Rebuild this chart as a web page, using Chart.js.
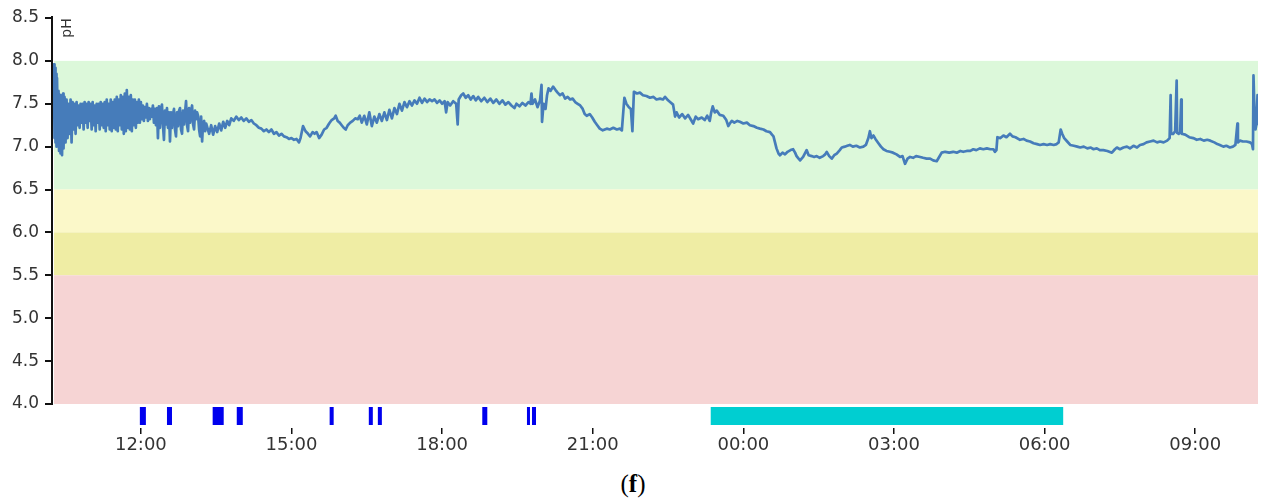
<!DOCTYPE html>
<html>
<head>
<meta charset="utf-8">
<script src="https://cdn.jsdelivr.net/npm/chart.js@4.4.1/dist/chart.umd.min.js"></script>
<style>
  body { margin: 0; background: #fff; }
  #wrap { position: relative; width: 1261px; height: 503px; }
  #caption {
    position: absolute; left: 0; top: 470px; width: 1266px;
    text-align: center; font-family: "Liberation Serif", serif; font-size: 25px; color: #000;
  }
</style>
</head>
<body>
<div id="wrap">
  <canvas id="phChart" width="1261" height="465"></canvas>
  <div id="caption">(<b>f</b>)</div>
</div>
<script>
// time in hours since midnight of day 1 (24+ = next day), pH
const phTime = [
  10.26, 10.27, 10.28, 10.29, 10.30, 10.31, 10.32, 10.33, 10.35, 10.36, 10.37, 10.39, 10.40, 10.42, 10.43, 10.45,
  10.46, 10.48, 10.50, 10.52, 10.54, 10.56, 10.58, 10.60, 10.62, 10.64, 10.66, 10.68, 10.70, 10.72, 10.74, 10.76,
  10.78, 10.80, 10.82, 10.84, 10.86, 10.88, 10.90, 10.92, 10.94, 10.96, 10.98, 11.00, 11.02, 11.04, 11.06, 11.08,
  11.10, 11.12, 11.14, 11.16, 11.18, 11.20, 11.22, 11.24, 11.26, 11.28, 11.30, 11.32, 11.34, 11.36, 11.38, 11.40,
  11.42, 11.44, 11.46, 11.48, 11.50, 11.52, 11.54, 11.56, 11.58, 11.60, 11.62, 11.64, 11.66, 11.68, 11.70, 11.72,
  11.74, 11.76, 11.78, 11.80, 11.82, 11.84, 11.86, 11.88, 11.90, 11.92, 11.94,
  11.96, 11.98, 12.00, 12.02, 12.04, 12.06, 12.08, 12.10, 12.12, 12.14, 12.16, 12.18, 12.20, 12.22, 12.24, 12.26,
  12.28, 12.30, 12.32, 12.34, 12.36, 12.38, 12.40, 12.42, 12.44, 12.46, 12.48, 12.50, 12.52, 12.54, 12.56, 12.58,
  12.60, 12.62, 12.64, 12.66, 12.68, 12.70, 12.72, 12.74, 12.76, 12.78, 12.80, 12.82, 12.84, 12.86, 12.88, 12.90,
  12.92, 12.94, 12.96, 12.98, 13.00, 13.02, 13.04, 13.06, 13.08, 13.10, 13.12, 13.14, 13.16, 13.18, 13.20, 13.22,
  13.24, 13.26, 13.28, 13.30, 13.36,
  13.40, 13.44, 13.48, 13.52, 13.56, 13.60, 13.64, 13.68, 13.72, 13.76, 13.80, 13.85, 13.90, 13.95, 14.00, 14.05,
  14.10, 14.15, 14.20, 14.25, 14.30, 14.35, 14.40, 14.45, 14.50, 14.55, 14.60, 14.65, 14.70, 14.75, 14.80, 14.85,
  14.90, 14.95, 15.00, 15.05, 15.10, 15.15, 15.18, 15.23, 15.28, 15.33, 15.37, 15.42, 15.46, 15.50, 15.55, 15.60,
  15.65, 15.70, 15.75, 15.80, 15.85, 15.88, 15.92, 15.96, 16.00, 16.04, 16.08, 16.12, 16.17, 16.22, 16.27, 16.32,
  16.36,
  16.40, 16.45, 16.50, 16.55, 16.60, 16.65, 16.70, 16.75, 16.80, 16.85, 16.90, 16.95, 17.00, 17.05, 17.10, 17.15,
  17.20, 17.25, 17.30, 17.35, 17.40, 17.45, 17.50, 17.55, 17.60, 17.65, 17.70, 17.75, 17.80, 17.85, 17.90, 17.95,
  18.00, 18.05, 18.08, 18.11, 18.16, 18.22, 18.28, 18.31, 18.33, 18.38, 18.42, 18.47, 18.52, 18.57, 18.62, 18.67,
  18.72, 18.78, 18.84, 18.90, 18.96, 19.02, 19.08, 19.14, 19.20, 19.26, 19.32, 19.38, 19.44, 19.48, 19.54, 19.60,
  19.66, 19.72, 19.76, 19.78, 19.80, 19.85, 19.90, 19.95, 19.98, 19.99, 20.02, 20.06, 20.09, 20.12, 20.16, 20.21,
  20.26, 20.30, 20.35, 20.40, 20.45, 20.50, 20.55, 20.60, 20.65, 20.70, 20.75, 20.80, 20.84, 20.88, 20.94, 20.99,
  21.04, 21.09, 21.14, 21.20, 21.28, 21.34, 21.41, 21.48, 21.54, 21.58, 21.63, 21.67, 21.72, 21.76, 21.79, 21.82,
  21.88, 21.94, 22.00, 22.07, 22.14, 22.21, 22.27, 22.34, 22.40, 22.44, 22.50, 22.54,
  22.60, 22.64, 22.67, 22.72, 22.78, 22.84, 22.90, 22.95, 23.00, 23.05, 23.10, 23.17, 23.23, 23.28, 23.33, 23.36,
  23.39, 23.43, 23.47, 23.53, 23.60, 23.66, 23.70, 23.73, 23.77, 23.82, 23.88, 23.93, 24.00, 24.07, 24.13, 24.20,
  24.27, 24.33, 24.40, 24.46, 24.53, 24.57, 24.60, 24.63, 24.66, 24.70, 24.73, 24.78, 24.83, 24.88, 24.94, 24.99,
  25.03, 25.06, 25.10, 25.13, 25.19, 25.26, 25.30, 25.36, 25.41, 25.46, 25.52, 25.59, 25.63, 25.66, 25.71, 25.76,
  25.81, 25.86, 25.92, 25.96, 26.02, 26.07, 26.12, 26.18, 26.25, 26.32, 26.39, 26.44, 26.49, 26.52, 26.55, 26.59,
  26.63, 26.69, 26.74, 26.79, 26.85, 26.92, 26.98, 27.05, 27.12, 27.17, 27.22, 27.27, 27.32, 27.38, 27.44, 27.52,
  27.58, 27.65, 27.72, 27.78, 27.85, 27.90, 27.95, 28.02, 28.10, 28.18, 28.25, 28.32, 28.38, 28.45,
  28.52, 28.58, 28.64, 28.71, 28.78, 28.85, 28.92, 28.98, 29.01, 29.04, 29.06, 29.12, 29.18, 29.24, 29.31, 29.36,
  29.42, 29.51, 29.58, 29.64, 29.71, 29.78, 29.85, 29.91, 29.98, 30.05, 30.11, 30.18, 30.24, 30.28, 30.32, 30.35,
  30.39, 30.45, 30.51, 30.58, 30.65, 30.71, 30.78, 30.85, 30.92, 30.97, 31.04, 31.10, 31.17, 31.25, 31.34, 31.40,
  31.44, 31.50, 31.57, 31.64, 31.70, 31.77, 31.84, 31.90, 31.97, 32.03, 32.10, 32.17, 32.24, 32.30, 32.37, 32.44,
  32.49, 32.51, 32.52, 32.56, 32.60, 32.63, 32.64, 32.67, 32.70, 32.72, 32.73, 32.80, 32.88, 32.96, 33.03, 33.10,
  33.17, 33.24, 33.30, 33.38, 33.44, 33.49, 33.56, 33.62, 33.69, 33.75, 33.80, 33.84, 33.85, 33.89, 33.95, 34.02,
  34.09, 34.13, 34.15, 34.16, 34.18, 34.20, 34.22, 34.24, 34.25
];
const phValue = [
  7.45, 7.96, 7.10, 7.92, 7.05, 7.85, 7.00, 7.80, 7.08, 7.65, 6.95, 7.60, 6.92, 7.55, 6.90, 7.62,
  6.98, 7.58, 7.05, 7.55, 7.10, 7.50, 7.15, 7.55, 7.05, 7.52, 7.20, 7.50, 7.15, 7.52, 7.25, 7.48,
  7.22, 7.50, 7.28, 7.50, 7.20, 7.52, 7.28, 7.50, 7.22, 7.52, 7.30, 7.50, 7.20, 7.52, 7.25, 7.48,
  7.18, 7.50, 7.28, 7.50, 7.20, 7.52, 7.25, 7.50, 7.22, 7.52, 7.18, 7.55, 7.25, 7.50, 7.20, 7.55,
  7.18, 7.52, 7.22, 7.55, 7.20, 7.58, 7.18, 7.55, 7.25, 7.60, 7.20, 7.58, 7.15, 7.62, 7.18, 7.66,
  7.22, 7.58, 7.20, 7.60, 7.18, 7.55, 7.25, 7.55, 7.22, 7.52, 7.28,
  7.55, 7.28, 7.52, 7.32, 7.48, 7.30, 7.46, 7.34, 7.50, 7.30, 7.45, 7.32, 7.44, 7.35, 7.48, 7.28,
  7.44, 7.25, 7.45, 7.10, 7.47, 7.22, 7.44, 7.49, 7.25, 7.08, 7.42, 7.26, 7.45, 7.22, 7.40, 7.06,
  7.40, 7.22, 7.38, 7.44, 7.20, 7.12, 7.40, 7.24, 7.42, 7.45, 7.20, 7.15, 7.42, 7.26, 7.40, 7.53,
  7.25, 7.18, 7.45, 7.28, 7.42, 7.48, 7.26, 7.20, 7.42, 7.32, 7.40, 7.36, 7.20, 7.12, 7.35, 7.06,
  7.28, 7.30, 7.18, 7.27, 7.15,
  7.25, 7.14, 7.24, 7.17, 7.27, 7.19, 7.29, 7.22, 7.30, 7.25, 7.33, 7.30, 7.35, 7.31, 7.34, 7.30,
  7.33, 7.29, 7.31, 7.27, 7.25, 7.22, 7.21, 7.18, 7.20, 7.17, 7.20, 7.15, 7.17, 7.13, 7.15, 7.12,
  7.11, 7.09, 7.10, 7.08, 7.09, 7.05, 7.10, 7.24, 7.18, 7.15, 7.12, 7.17, 7.15, 7.17, 7.10, 7.14,
  7.20, 7.22, 7.27, 7.31, 7.33, 7.36, 7.30, 7.28, 7.25, 7.22, 7.20, 7.25, 7.28, 7.30, 7.33, 7.32,
  7.36,
  7.28, 7.36, 7.26, 7.40, 7.24, 7.35, 7.28, 7.38, 7.30, 7.40, 7.31, 7.43, 7.33, 7.45, 7.38, 7.50,
  7.42, 7.52, 7.46, 7.53, 7.48, 7.54, 7.50, 7.57, 7.51, 7.56, 7.52, 7.55, 7.53, 7.55, 7.51, 7.54,
  7.50, 7.53, 7.40, 7.52, 7.48, 7.53, 7.50, 7.26, 7.55, 7.60, 7.62, 7.57, 7.60, 7.55, 7.59, 7.54,
  7.58, 7.53, 7.57, 7.52, 7.56, 7.51, 7.55, 7.50, 7.54, 7.49, 7.52, 7.48, 7.45, 7.50, 7.47, 7.51,
  7.48, 7.52, 7.50, 7.62, 7.50, 7.55, 7.46, 7.54, 7.72, 7.29, 7.50, 7.44, 7.60, 7.68, 7.65, 7.70,
  7.66, 7.63, 7.60, 7.62, 7.56, 7.58, 7.55, 7.56, 7.52, 7.50, 7.48, 7.44, 7.38, 7.36, 7.38, 7.34,
  7.29, 7.25, 7.21, 7.19, 7.21, 7.20, 7.22, 7.20, 7.21, 7.19, 7.57, 7.50, 7.46, 7.44, 7.18, 7.64,
  7.62, 7.63, 7.60, 7.59, 7.57, 7.58, 7.55, 7.56, 7.55, 7.58, 7.54, 7.52,
  7.49, 7.35, 7.40, 7.34, 7.38, 7.33, 7.37, 7.32, 7.27, 7.35, 7.32, 7.34, 7.31, 7.36, 7.30, 7.40,
  7.47, 7.40, 7.42, 7.37, 7.36, 7.31, 7.24, 7.27, 7.30, 7.28, 7.30, 7.29, 7.27, 7.28, 7.25, 7.24,
  7.22, 7.21, 7.20, 7.18, 7.17, 7.14, 7.12, 7.05, 6.98, 6.92, 6.90, 6.93, 6.91, 6.94, 6.96, 6.97,
  6.93, 6.89, 6.86, 6.84, 6.88, 6.96, 6.90, 6.89, 6.88, 6.89, 6.87, 6.89, 6.91, 6.94, 6.89, 6.86,
  6.90, 6.92, 6.96, 6.99, 7.00, 7.01, 7.02, 7.00, 7.01, 6.99, 7.00, 7.02, 7.10, 7.18, 7.10, 7.13,
  7.09, 7.04, 7.00, 6.97, 6.95, 6.94, 6.93, 6.91, 6.88, 6.89, 6.80, 6.86, 6.88, 6.87, 6.89, 6.88,
  6.87, 6.86, 6.86, 6.84, 6.83, 6.88, 6.93, 6.94, 6.93, 6.94, 6.93, 6.95, 6.94, 6.95,
  6.95, 6.97, 6.96, 6.98, 6.97, 6.98, 6.97, 6.97, 6.94, 6.96, 7.11, 7.10, 7.13, 7.11, 7.15, 7.12,
  7.11, 7.08, 7.09, 7.07, 7.06, 7.04, 7.03, 7.02, 7.03, 7.02, 7.03, 7.02, 7.03, 7.05, 7.20, 7.15,
  7.10, 7.06, 7.02, 7.01, 7.00, 6.99, 7.00, 6.98, 6.99, 6.97, 6.98, 6.96, 6.96, 6.95, 6.93, 6.97,
  6.99, 6.97, 6.99, 7.00, 6.98, 7.01, 6.99, 7.02, 7.03, 7.05, 7.06, 7.07, 7.05, 7.06, 7.05, 7.07,
  7.10, 7.60, 7.15, 7.15, 7.18, 7.77, 7.16, 7.15, 7.17, 7.55, 7.15, 7.14, 7.11, 7.10, 7.08, 7.09,
  7.07, 7.08, 7.07, 7.05, 7.03, 7.02, 7.00, 7.01, 6.99, 7.00, 7.02, 7.27, 7.05, 7.07, 7.06, 7.06,
  7.05, 7.03, 6.97, 7.83, 7.40, 7.20, 7.27, 7.60, 7.25
];

// event markers under the plot (hours)
const eventStart = [11.98, 12.52, 13.43, 13.91, 15.76, 16.54, 16.72, 18.80, 19.69, 19.79];
const eventEnd   = [12.10, 12.62, 13.65, 14.03, 15.84, 16.62, 16.80, 18.90, 19.75, 19.87];
const sleepStart = [23.35];
const sleepEnd   = [30.37];

// coloured pH zones
const zoneLow  = [6.5, 6.0, 5.5, 4.0];
const zoneHigh = [8.0, 6.5, 6.0, 5.5];
const zoneColors = ['#dcf8da', '#fbf8c9', '#efeda4', '#f6d4d4'];

const yTicks = [4.0, 4.5, 5.0, 5.5, 6.0, 6.5, 7.0, 7.5, 8.0, 8.5];
const xTicks = [12, 15, 18, 21, 24, 27, 30, 33];
const xTickLabels = ['12:00', '15:00', '18:00', '21:00', '00:00', '03:00', '06:00', '09:00'];

const X_MIN = 10.25, X_MAX = 34.25;
const Y_MIN = 3.72, Y_MAX = 8.5;
const EVENT_ROW = 3.86;

function markerRow(starts, ends) {
    const pts = [];
    starts.forEach((s, i) => {
        pts.push({ x: s, y: EVENT_ROW }, { x: ends[i], y: EVENT_ROW }, { x: ends[i], y: null });
    });
    return pts;
}

const zonesPlugin = {
    id: 'zones',
    beforeDatasetsDraw(chart) {
        const { ctx, chartArea, scales } = chart;
        ctx.save();
        zoneLow.forEach((lo, i) => {
            const top = scales.y.getPixelForValue(zoneHigh[i]);
            const bot = scales.y.getPixelForValue(lo);
            ctx.fillStyle = zoneColors[i];
            ctx.fillRect(chartArea.left + 1, top, chartArea.right - chartArea.left - 1, bot - top);
        });
        ctx.restore();
    },
    afterDraw(chart) {
        const { ctx, chartArea, scales } = chart;
        ctx.save();
        // y axis line only spans 4.0 .. 8.5
        ctx.strokeStyle = '#111';
        ctx.lineWidth = 2;
        ctx.beginPath();
        ctx.moveTo(chartArea.left - 1, scales.y.getPixelForValue(8.5) - 2);
        ctx.lineTo(chartArea.left - 1, scales.y.getPixelForValue(4.0) + 1);
        ctx.stroke();
        // rotated unit label
        ctx.translate(chartArea.left + 14, chartArea.top + 10);
        ctx.rotate(-Math.PI / 2);
        ctx.fillStyle = '#333';
        ctx.font = '14px "DejaVu Sans"';
        ctx.textAlign = 'center';
        ctx.textBaseline = 'middle';
        ctx.fillText('pH', 0, 0);
        ctx.restore();
    }
};

const ctx = document.getElementById('phChart').getContext('2d');
new Chart(ctx, {
    type: 'line',
    data: {
        datasets: [
            {
                label: 'pH',
                data: phTime.map((t, i) => ({ x: t, y: phValue[i] })),
                borderColor: '#467cba',
                borderWidth: 2.7,
                borderJoinStyle: 'round',
                pointRadius: 0,
                tension: 0
            },
            {
                label: 'events',
                data: markerRow(eventStart, eventEnd),
                borderColor: '#0000ee',
                borderWidth: 18,
                borderCapStyle: 'butt',
                pointRadius: 0,
                spanGaps: false
            },
            {
                label: 'sleep',
                data: markerRow(sleepStart, sleepEnd),
                borderColor: '#00ced1',
                borderWidth: 18,
                borderCapStyle: 'butt',
                pointRadius: 0,
                spanGaps: false
            }
        ]
    },
    options: {
        responsive: false,
        animation: false,
        layout: { padding: { top: 18, right: 3, left: 0, bottom: 0 } },
        plugins: { legend: { display: false }, tooltip: { enabled: false } },
        scales: {
            x: {
                type: 'linear',
                min: X_MIN,
                max: X_MAX,
                afterBuildTicks: (s) => { s.ticks = xTicks.map(v => ({ value: v })); },
                afterFit: (s) => { s.height = 37; },
                grid: { drawOnChartArea: false, drawTicks: true, tickLength: 6, tickColor: '#111', lineWidth: 1.5 },
                border: { display: false },
                ticks: {
                    padding: 1,
                    color: '#333',
                    font: { family: 'DejaVu Sans', size: 18 },
                    maxRotation: 0,
                    autoSkip: false,
                    callback: (v) => xTickLabels[xTicks.indexOf(v)]
                }
            },
            y: {
                min: Y_MIN,
                max: Y_MAX,
                afterBuildTicks: (s) => { s.ticks = yTicks.map(v => ({ value: v })); },
                afterFit: (s) => { s.width = 53; },
                grid: { drawOnChartArea: false, drawTicks: true, tickLength: 8, tickColor: '#111', lineWidth: 2 },
                border: { display: false },
                ticks: {
                    padding: 6,
                    color: '#333',
                    font: { family: 'DejaVu Sans', size: 17 },
                    callback: (v) => v.toFixed(1)
                }
            }
        }
    },
    plugins: [zonesPlugin]
});
</script>
</body>
</html>
